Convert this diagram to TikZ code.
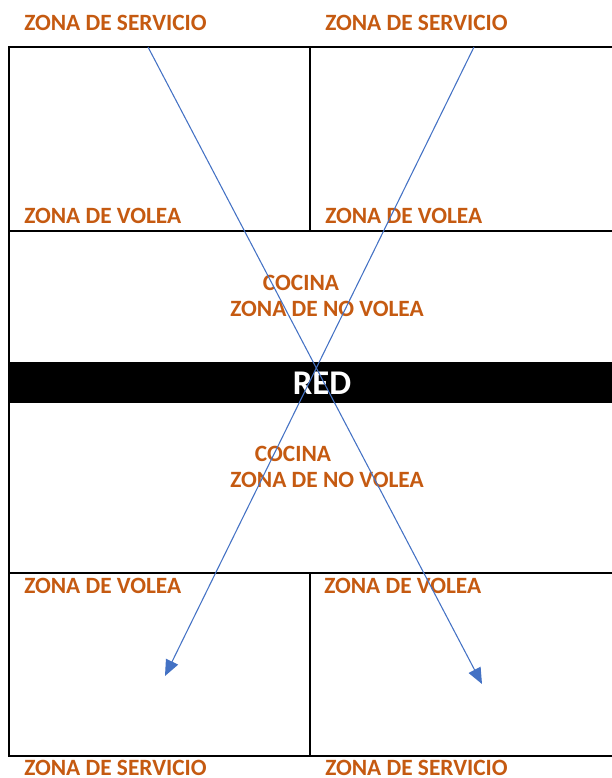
\documentclass[tikz,border=0pt]{standalone}
\usepackage{fontspec}
\setmainfont{Carlito}
\usetikzlibrary{arrows.meta}
\definecolor{zorange}{HTML}{C55A11}
\definecolor{zblue}{HTML}{4472C4}
\tikzset{
  zlabel/.style={inner sep=0pt, text=zorange, font=\bfseries\fontsize{17.5}{20}\selectfont},
  court/.style={line width=1.5pt, black},
  path line/.style={zblue, line width=0.8pt, -{Triangle[length=12pt,width=10pt]}}
}
\begin{document}
\begin{tikzpicture}[x=0.75pt,y=-0.75pt]
\useasboundingbox (0,0) rectangle (611,778);
% court lines
\draw[court] (615,47) -- (9,47) -- (9,756) -- (615,756);
\draw[court] (9,231) -- (615,231);
\draw[court] (9,573) -- (615,573);
\draw[court] (310,47) -- (310,231);
\draw[court] (310,573) -- (310,756);
% net
\fill[black] (9,362) rectangle (615,403);
\node[inner sep=0pt, text=white, font=\bfseries\fontsize{26}{29}\selectfont, anchor=base] (red) at (322,394) {RED};
% labels
\node[zlabel, anchor=base west] (s1) at (24,30) {ZONA DE SERVICIO};
\node[zlabel, anchor=base west] (s2) at (325,30) {ZONA DE SERVICIO};
\node[zlabel, anchor=base west] (v1) at (24,223) {ZONA DE VOLEA};
\node[zlabel, anchor=base west] (v2) at (325,223) {ZONA DE VOLEA};
\node[zlabel, anchor=base] (c1) at (301,290) {COCINA};
\node[zlabel, anchor=base] (n1) at (327,316) {ZONA DE NO VOLEA};
\node[zlabel, anchor=base] (c2) at (293,461) {COCINA};
\node[zlabel, anchor=base] (n2) at (327,487) {ZONA DE NO VOLEA};
\node[zlabel, anchor=base west] (v3) at (24,593) {ZONA DE VOLEA};
\node[zlabel, anchor=base west] (v4) at (324,593) {ZONA DE VOLEA};
\node[zlabel, anchor=base west] (s3) at (24,775) {ZONA DE SERVICIO};
\node[zlabel, anchor=base west] (s4) at (325,775) {ZONA DE SERVICIO};
% paths
\coordinate (a1) at (148,47);
\coordinate (b1) at (482,684);
\coordinate (a2) at (474,47);
\coordinate (b2) at (165,676);
\draw[path line] (a1) -- (b1);
\draw[path line] (a2) -- (b2);
\end{tikzpicture}
\end{document}
